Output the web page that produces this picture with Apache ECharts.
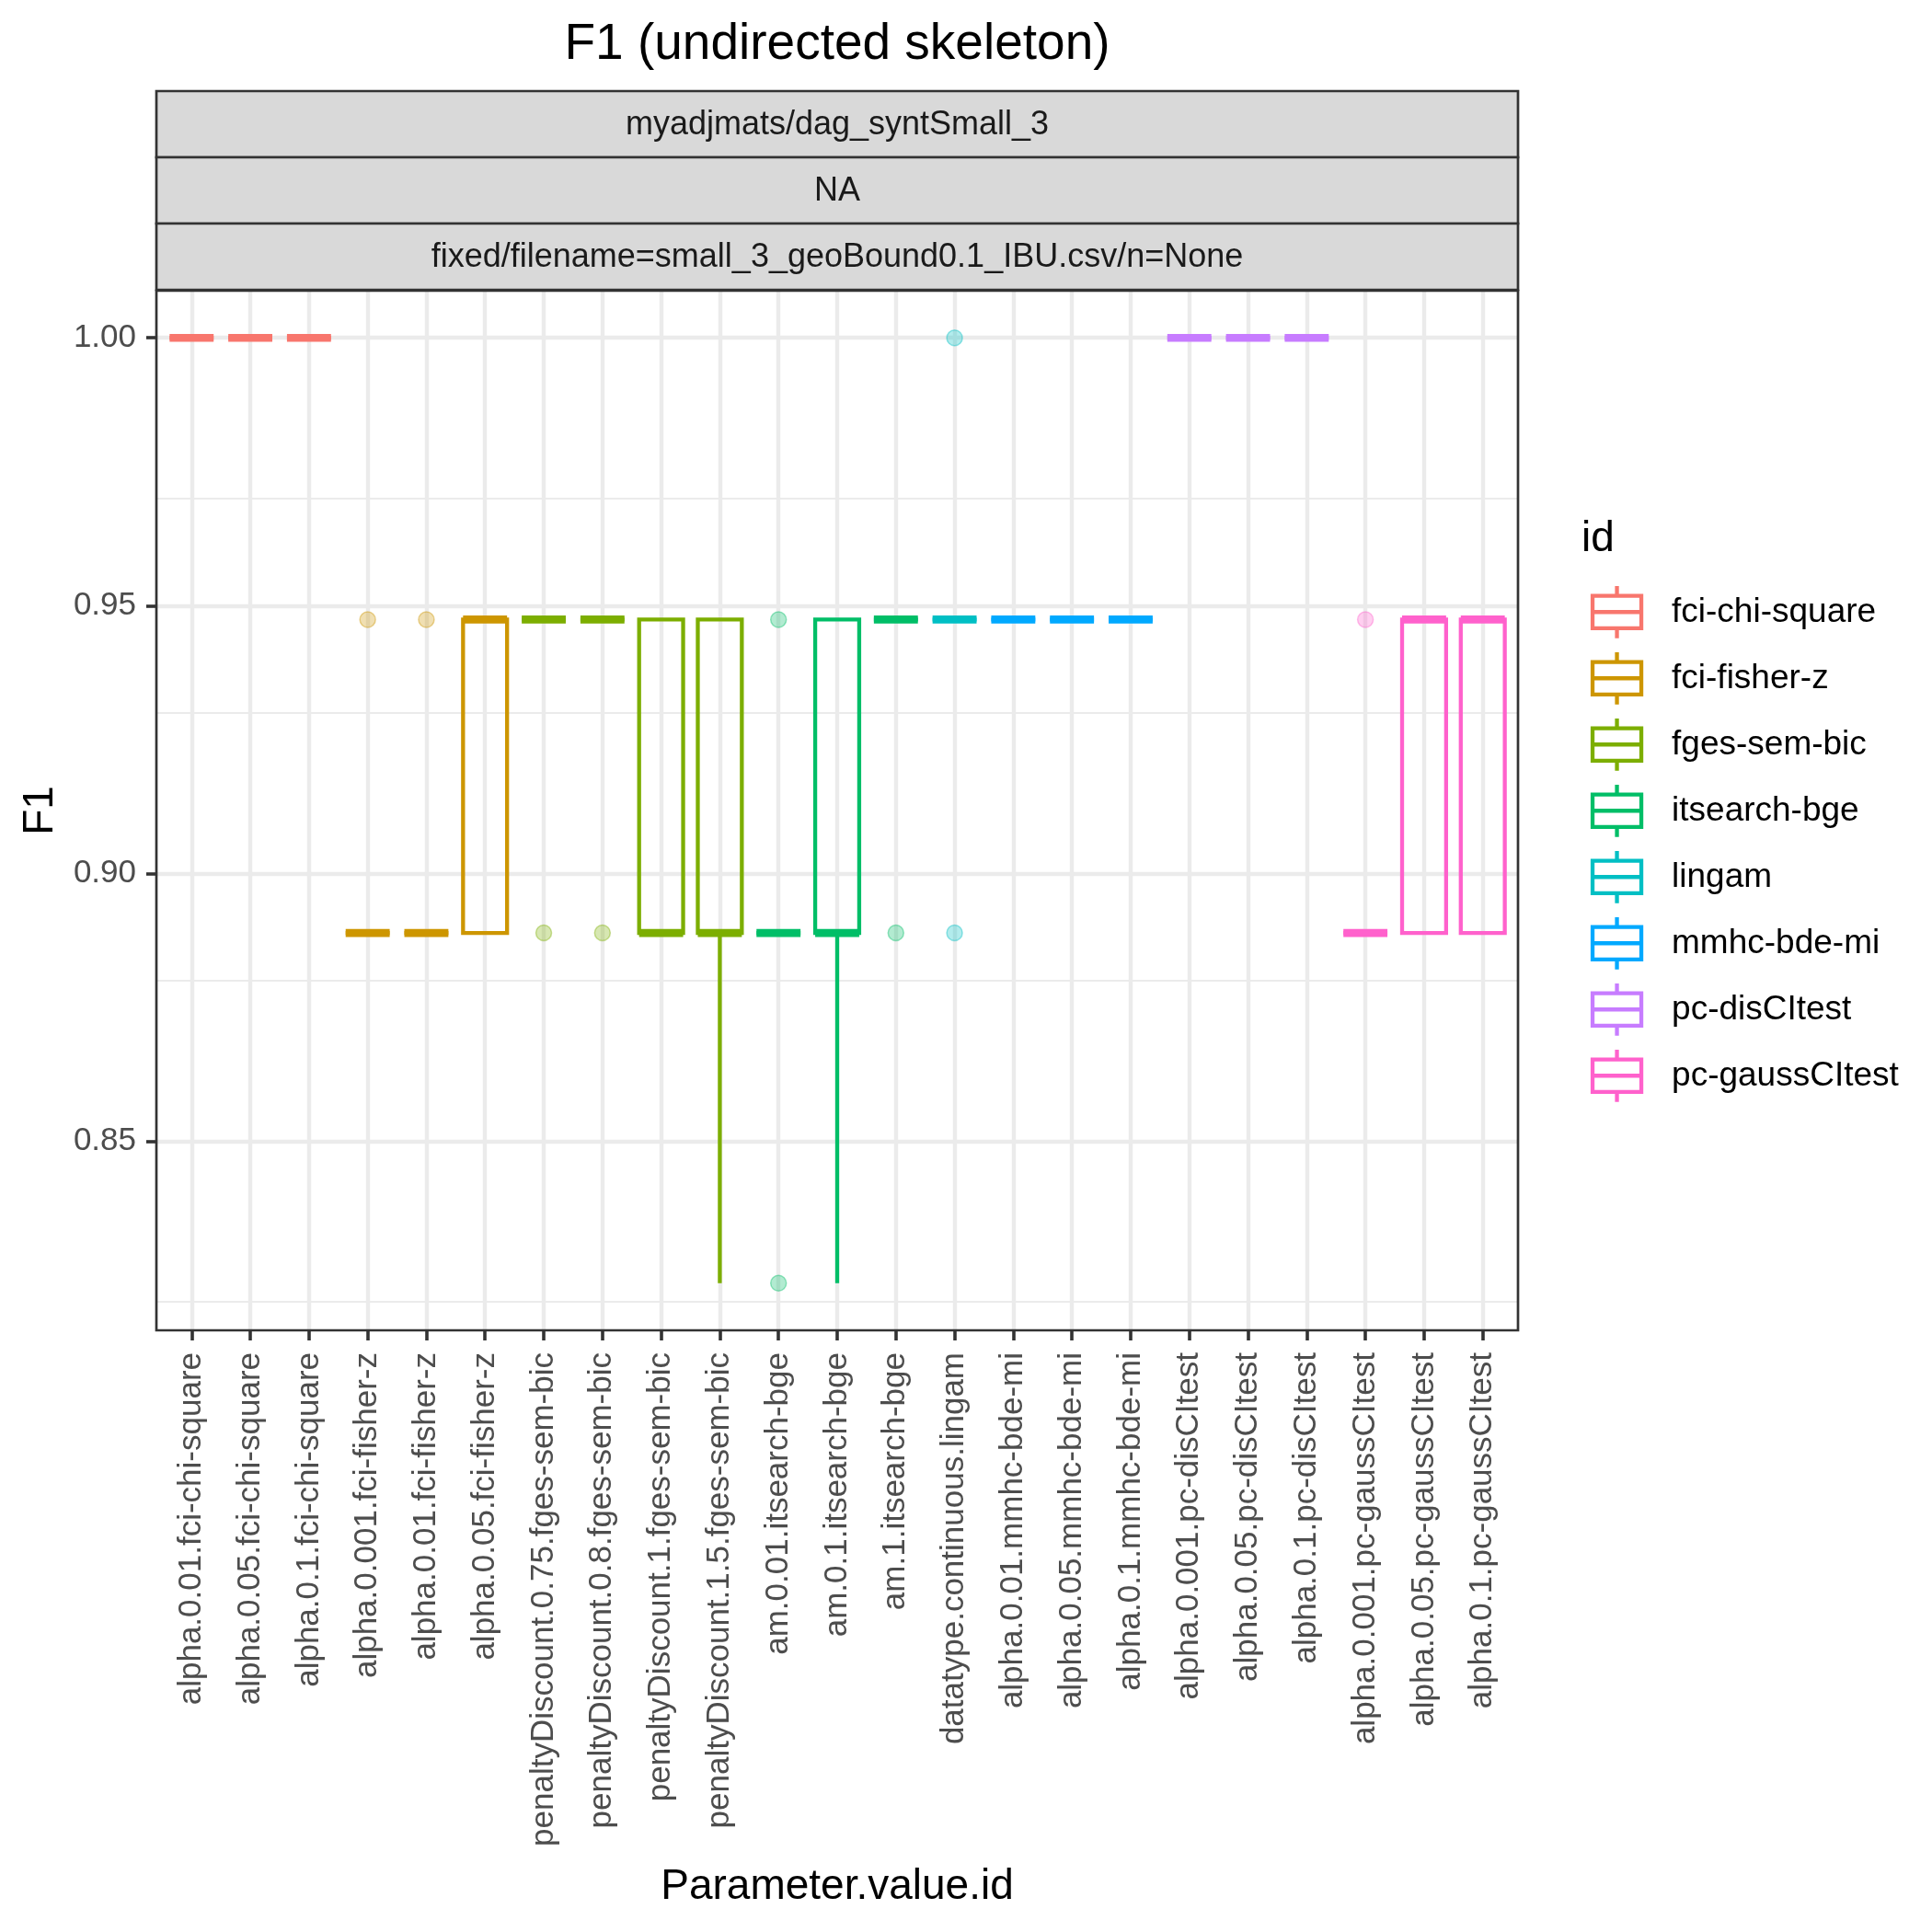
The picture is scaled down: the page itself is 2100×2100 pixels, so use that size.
<!DOCTYPE html>
<html>
<head>
<meta charset="utf-8">
<script src="https://cdn.jsdelivr.net/npm/echarts@6/dist/echarts.min.js"></script>
<style>
html,body{margin:0;padding:0;background:#ffffff;}
#chart{width:2100px;height:2100px;}
</style>
</head>
<body>
<div id="chart"></div>
<script>
// ---------------- data ----------------
const categories = [
  'alpha.0.01.fci-chi-square','alpha.0.05.fci-chi-square','alpha.0.1.fci-chi-square',
  'alpha.0.001.fci-fisher-z','alpha.0.01.fci-fisher-z','alpha.0.05.fci-fisher-z',
  'penaltyDiscount.0.75.fges-sem-bic','penaltyDiscount.0.8.fges-sem-bic','penaltyDiscount.1.fges-sem-bic','penaltyDiscount.1.5.fges-sem-bic',
  'am.0.01.itsearch-bge','am.0.1.itsearch-bge','am.1.itsearch-bge',
  'datatype.continuous.lingam',
  'alpha.0.01.mmhc-bde-mi','alpha.0.05.mmhc-bde-mi','alpha.0.1.mmhc-bde-mi',
  'alpha.0.001.pc-disCItest','alpha.0.05.pc-disCItest','alpha.0.1.pc-disCItest',
  'alpha.0.001.pc-gaussCItest','alpha.0.05.pc-gaussCItest','alpha.0.1.pc-gaussCItest'
];
const categoryIds = [
  'fci-chi-square','fci-chi-square','fci-chi-square',
  'fci-fisher-z','fci-fisher-z','fci-fisher-z',
  'fges-sem-bic','fges-sem-bic','fges-sem-bic','fges-sem-bic',
  'itsearch-bge','itsearch-bge','itsearch-bge',
  'lingam',
  'mmhc-bde-mi','mmhc-bde-mi','mmhc-bde-mi',
  'pc-disCItest','pc-disCItest','pc-disCItest',
  'pc-gaussCItest','pc-gaussCItest','pc-gaussCItest'
];
const ids = ['fci-chi-square','fci-fisher-z','fges-sem-bic','itsearch-bge','lingam','mmhc-bde-mi','pc-disCItest','pc-gaussCItest'];
const idColors = ['#F8766D','#CD9600','#7CAE00','#00BE67','#00BFC4','#00A9FF','#C77CFF','#FF61CC'];

// box statistics per category (lower whisker, Q1, median, Q3, upper whisker)
const whiskerLow  = [1,1,1, 0.8889,0.8889,0.8889, 0.9474,0.9474,0.8889,0.8235, 0.8889,0.8235,0.9474, 0.9474, 0.9474,0.9474,0.9474, 1,1,1, 0.8889,0.8889,0.8889];
const boxQ1       = [1,1,1, 0.8889,0.8889,0.8889, 0.9474,0.9474,0.8889,0.8889, 0.8889,0.8889,0.9474, 0.9474, 0.9474,0.9474,0.9474, 1,1,1, 0.8889,0.8889,0.8889];
const boxMedian   = [1,1,1, 0.8889,0.8889,0.9474, 0.9474,0.9474,0.8889,0.8889, 0.8889,0.8889,0.9474, 0.9474, 0.9474,0.9474,0.9474, 1,1,1, 0.8889,0.9474,0.9474];
const boxQ3       = [1,1,1, 0.8889,0.8889,0.9474, 0.9474,0.9474,0.9474,0.9474, 0.8889,0.9474,0.9474, 0.9474, 0.9474,0.9474,0.9474, 1,1,1, 0.8889,0.9474,0.9474];
const whiskerHigh = [1,1,1, 0.8889,0.8889,0.9474, 0.9474,0.9474,0.9474,0.9474, 0.8889,0.9474,0.9474, 0.9474, 0.9474,0.9474,0.9474, 1,1,1, 0.8889,0.9474,0.9474];

// outliers: category index and value
const outlierCategory = [3, 4, 6, 7, 10, 10, 12, 13, 13, 20];
const outlierValue    = [0.9474, 0.9474, 0.8889, 0.8889, 0.9474, 0.8235, 0.8889, 1.0, 0.8889, 0.9474];

const yTicks = [0.85, 0.90, 0.95, 1.00];
const yMinorTicks = [0.825, 0.875, 0.925, 0.975];
const stripLabels = ['myadjmats/dag_syntSmall_3', 'NA', 'fixed/filename=small_3_geoBound0.1_IBU.csv/n=None'];

// ---------------- layout ----------------
const FONT = '"Liberation Sans", Arial, Helvetica, sans-serif';
const PL = 170, PT = 316, PW = 1480, PH = 1130;
const unit = PW / (categories.length - 1 + 1.2);
const halfPad = 0.6 * unit;
const yMin = 0.8147, yMax = 1.0088;

function rgba(hex, a) {
  const r = parseInt(hex.slice(1,3),16), g = parseInt(hex.slice(3,5),16), b = parseInt(hex.slice(5,7),16);
  return 'rgba(' + r + ',' + g + ',' + b + ',' + a + ')';
}

function renderBox(params, api) {
  const x = api.value(0);
  const lo = api.coord([x, api.value(1)]);
  const q1 = api.coord([x, api.value(2)]);
  const md = api.coord([x, api.value(3)]);
  const q3 = api.coord([x, api.value(4)]);
  const hi = api.coord([x, api.value(5)]);
  const w = api.size([1, 0])[0] * 0.75;
  const color = api.visual('color');
  const lw = 4.3;
  return {
    type: 'group',
    children: [
      {type: 'line', shape: {x1: lo[0], y1: lo[1], x2: q1[0], y2: q1[1]}, style: {stroke: color, lineWidth: lw}},
      {type: 'line', shape: {x1: q3[0], y1: q3[1], x2: hi[0], y2: hi[1]}, style: {stroke: color, lineWidth: lw}},
      {type: 'rect', shape: {x: q1[0] - w / 2, y: q3[1], width: w, height: q1[1] - q3[1]}, style: {stroke: color, lineWidth: lw, fill: 'none'}},
      {type: 'line', shape: {x1: md[0] - w / 2, y1: md[1], x2: md[0] + w / 2, y2: md[1]}, style: {stroke: color, lineWidth: 8.7}}
    ]
  };
}

const series = [];
// horizontal grid lines on the outer panel grid
series.push({
  type: 'line', xAxisIndex: 0, yAxisIndex: 0, data: [], silent: true, z: 0,
  markLine: {
    silent: true, symbol: ['none', 'none'], label: {show: false}, z: 0, animation: false,
    emphasis: {disabled: true},
    data: yTicks.map(v => ({yAxis: v, lineStyle: {color: '#EBEBEB', width: 4.4, type: 'solid'}}))
      .concat(yMinorTicks.map(v => ({yAxis: v, lineStyle: {color: '#EBEBEB', width: 2.2, type: 'solid'}})))
  }
});

ids.forEach((id, k) => {
  const boxes = [];
  categories.forEach((c, i) => {
    if (categoryIds[i] === id) boxes.push([i, whiskerLow[i], boxQ1[i], boxMedian[i], boxQ3[i], whiskerHigh[i]]);
  });
  series.push({
    type: 'custom', name: id, xAxisIndex: 1, yAxisIndex: 1, z: 3,
    itemStyle: {color: idColors[k]},
    renderItem: renderBox,
    encode: {x: 0, y: [1, 2, 3, 4, 5]},
    data: boxes
  });
  const outs = [];
  outlierCategory.forEach((ci, j) => {
    if (categoryIds[ci] === id) outs.push([ci, outlierValue[j]]);
  });
  if (outs.length) {
    series.push({
      type: 'scatter', name: id, xAxisIndex: 1, yAxisIndex: 1, z: 4,
      symbol: 'circle', symbolSize: 17,
      itemStyle: {color: rgba(idColors[k], 0.3), borderColor: rgba(idColors[k], 0.4), borderWidth: 1.5, opacity: 1},
      data: outs
    });
  }
});

const legendIcon = 'path://M0,10.6 L53,10.6 L53,45.8 L0,45.8 Z M0,28.2 L53,28.2 M26.5,0 L26.5,10.6 M26.5,45.8 L26.5,56.8';

const graphics = [];
stripLabels.forEach((s, i) => {
  graphics.push({
    type: 'rect', z: 50, silent: true,
    shape: {x: PL, y: 99 + i * 72, width: PW, height: 72},
    style: {fill: '#D9D9D9', stroke: '#333333', lineWidth: 2.7}
  });
  graphics.push({
    type: 'text', z: 51, silent: true,
    x: PL + PW / 2, y: 99 + i * 72 + 37,
    style: {text: s, font: '36px ' + FONT, fill: '#1A1A1A', align: 'center', verticalAlign: 'middle'}
  });
});
graphics.push({
  type: 'rect', z: 60, silent: true,
  shape: {x: PL, y: PT, width: PW, height: PH},
  style: {fill: 'none', stroke: '#333333', lineWidth: 2.7}
});

const option = {
  animation: false,
  backgroundColor: '#ffffff',
  textStyle: {fontFamily: FONT},
  title: [
    {text: 'F1 (undirected skeleton)', left: PL + PW / 2, top: 21, textAlign: 'center', padding: 0,
     textStyle: {fontSize: 55, fontWeight: 'normal', color: '#000000', fontFamily: FONT}},
    {text: 'id', left: 1719, top: 563, padding: 0,
     textStyle: {fontSize: 46, fontWeight: 'normal', color: '#000000', fontFamily: FONT}}
  ],
  legend: {
    orient: 'vertical', left: 1728.9, top: 634.9, padding: 0,
    itemWidth: 53, itemHeight: 56.8, itemGap: 10.9,
    selectedMode: false,
    textStyle: {fontSize: 37, color: '#000000', fontFamily: FONT, padding: [0, 0, 0, 28]},
    data: ids.map((id, k) => ({
      name: id, icon: legendIcon,
      itemStyle: {color: 'rgba(0,0,0,0)', borderColor: idColors[k], borderWidth: 4.3}
    }))
  },
  grid: [
    {left: PL, top: PT, width: PW, height: PH, containLabel: false, show: false},
    {left: PL + halfPad, top: PT, width: PW - 2 * halfPad, height: PH, containLabel: false, show: false}
  ],
  xAxis: [
    {type: 'value', gridIndex: 0, min: 0, max: 1, show: false},
    {type: 'category', gridIndex: 1, data: categories, boundaryGap: false,
     axisLine: {show: false},
     axisTick: {show: true, interval: 0, length: 11, lineStyle: {color: '#333333', width: 3.6}},
     axisLabel: {interval: 0, rotate: 90, margin: 24, fontSize: 35, color: '#4D4D4D', fontFamily: FONT},
     splitLine: {show: true, interval: 0, lineStyle: {color: '#EBEBEB', width: 4.4}},
     name: 'Parameter.value.id', nameLocation: 'middle', nameGap: 582,
     nameTextStyle: {fontSize: 46, color: '#000000', fontFamily: FONT}}
  ],
  yAxis: [
    {type: 'value', gridIndex: 0, min: yMin, max: yMax,
     axisLine: {show: false},
     axisTick: {show: true, customValues: yTicks, length: 11, lineStyle: {color: '#333333', width: 3.6}},
     axisLabel: {show: true, customValues: yTicks, margin: 22, fontSize: 35, color: '#4D4D4D', fontFamily: FONT,
                 formatter: v => Number(v).toFixed(2)},
     splitLine: {show: false},
     name: 'F1', nameLocation: 'middle', nameGap: 103,
     nameTextStyle: {fontSize: 46, color: '#000000', fontFamily: FONT}},
    {type: 'value', gridIndex: 1, min: yMin, max: yMax, show: false, splitLine: {show: false}}
  ],
  graphic: graphics,
  series: series
};

const chart = echarts.init(document.getElementById('chart'), null, {renderer: 'canvas'});
chart.setOption(option);
</script>
</body>
</html>
